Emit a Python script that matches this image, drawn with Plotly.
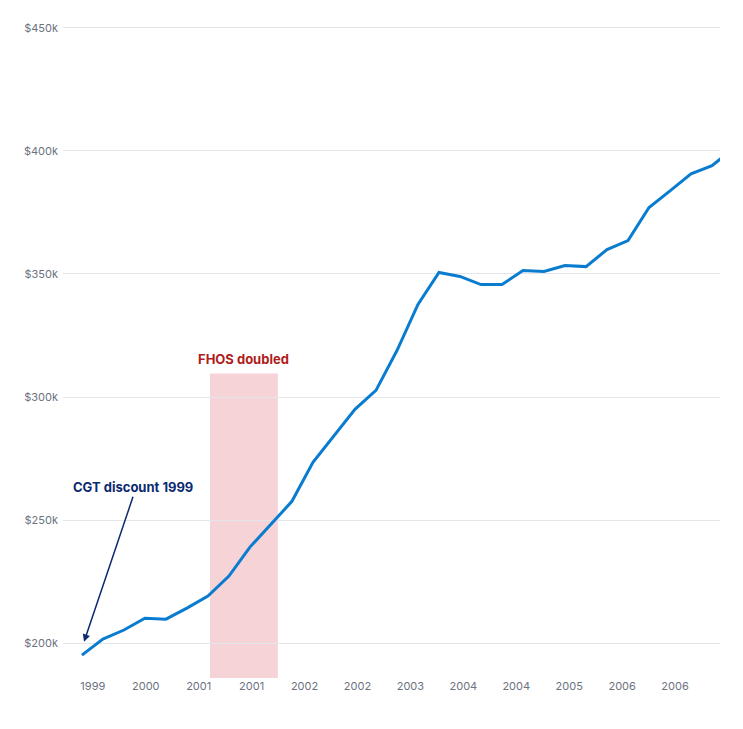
import plotly.graph_objs as go

# quarterly median price, $k
prices = [195.1, 201.6, 205.3, 210.1, 209.7, 214.2, 219.1, 227.2, 239.0, 248.3,
          257.6, 273.5, 284.4, 295.0, 302.7, 318.9, 337.6, 350.6, 349.0, 345.7,
          345.7, 351.4, 351.0, 353.4, 353.0, 359.9, 363.6, 377.0, 383.8, 390.7,
          394.0, 400.9]
tick_labels = ["1999", "2000", "2001", "2001", "2002", "2002", "2003", "2004",
               "2004", "2005", "2006", "2006"]
y_ticks = [200, 250, 300, 350, 400, 450]

idx = list(range(len(prices)))
tick_pos = [0.52 + 2.52 * i for i in range(len(tick_labels))]

fig = go.Figure()
fig.add_trace(go.Scatter(x=idx, y=prices, mode="lines",
                         line=dict(color="#0a7ccf", width=3), hoverinfo="skip"))

# FHOS shaded period
fig.add_shape(type="rect", x0=6.1, x1=9.33, y0=185.8, y1=309.6, layer="below",
              fillcolor="rgba(230,150,160,0.42)", line=dict(width=0))
fig.add_annotation(x=7.7, y=309.6, yshift=14, text="<b>FHOS doubled</b>", showarrow=False,
                   font=dict(color="#b01c1c", size=13, family="Inter"))
fig.add_annotation(x=0.1, y=200.5, ax=123, ay=488, axref="pixel", ayref="pixel",
                   text="<b>CGT discount 1999</b>", showarrow=True, arrowhead=2,
                   arrowsize=1, arrowwidth=1.5, arrowcolor="#0b2a6f",
                   font=dict(color="#0b2a6f", size=13, family="Inter"), yanchor="bottom")
fig.layout.annotations[-1].update(ax=49, ay=-145, axref="pixel", ayref="pixel")

fig.update_layout(
    width=743, height=729, autosize=False,
    margin=dict(l=55, r=31, t=15, b=59),
    plot_bgcolor="white", paper_bgcolor="white", showlegend=False,
    font=dict(family="Inter", size=11, color="#6b7280"),
    xaxis=dict(range=[-0.9, 30.38], tickvals=tick_pos, ticktext=tick_labels,
               showgrid=False, zeroline=False, showline=False, ticks=""),
    yaxis=dict(range=[185.8, 452], tickvals=y_ticks,
               ticktext=["$%dk" % v for v in y_ticks], showgrid=True,
               gridcolor="#e3e5ea", zeroline=False, ticks="", ticklabelstandoff=4),
)
fig.write_html("out.html")
